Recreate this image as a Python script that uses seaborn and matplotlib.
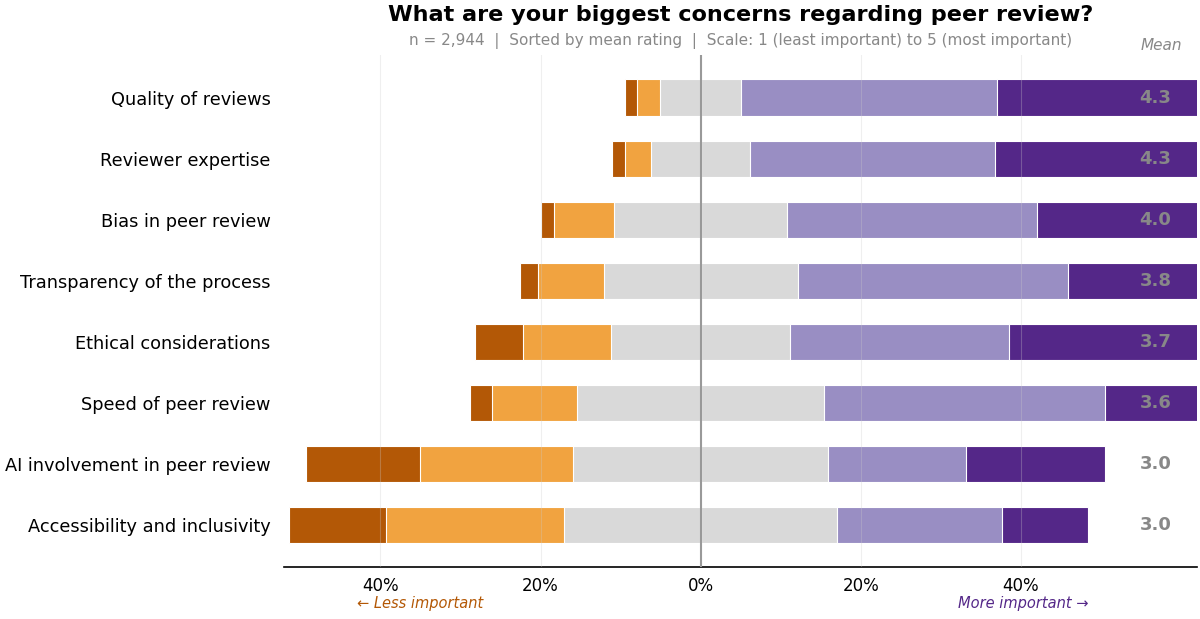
import numpy as np
import pandas as pd
import seaborn as sns
import matplotlib.pyplot as plt

# Data: share of responses (%) per rating 1..5, sorted by mean rating
topics = [
    "Quality of reviews",
    "Reviewer expertise",
    "Bias in peer review",
    "Transparency of the process",
    "Ethical considerations",
    "Speed of peer review",
    "AI involvement in peer review",
    "Accessibility and inclusivity",
]
r1 = [1.5, 1.6, 1.7, 2.3, 5.9, 2.8, 14.3, 12.1]
r2 = [2.9, 3.3, 7.5, 8.2, 11.1, 10.6, 19.1, 22.3]
r3 = [10.1, 12.3, 21.6, 24.2, 22.3, 30.9, 31.9, 34.1]
r4 = [32.0, 30.6, 31.2, 33.8, 27.4, 35.1, 17.2, 20.6]
r5 = [53.5, 52.2, 38.0, 31.5, 33.3, 20.6, 17.3, 10.7]
means = [4.3, 4.3, 4.0, 3.8, 3.7, 3.6, 3.0, 3.0]

colors = ["#b35806", "#f1a340", "#d9d9d9", "#998ec3", "#542788"]

df = pd.DataFrame({"topic": topics, "r1": r1, "r2": r2, "r3": r3, "r4": r4, "r5": r5})
half = df["r3"] / 2
# cumulative ends, drawn from outside inwards so inner segments overlay
layers = [
    (half + df["r4"] + df["r5"], colors[4]),
    (half + df["r4"], colors[3]),
    (half, colors[2]),
    (-(half + df["r2"] + df["r1"]), colors[0]),
    (-(half + df["r2"]), colors[1]),
    (-half, colors[2]),
]

fig, ax = plt.subplots(figsize=(12, 6.19), dpi=100)
fig.subplots_adjust(left=0.237, right=0.9975, bottom=0.084, top=0.911)

for vals, c in layers:
    sns.barplot(x=vals, y=df["topic"], color=c, orient="h", width=0.6,
                saturation=1, edgecolor="white", linewidth=0.8, ax=ax)

ax.set_xlim(-52, 62)
ax.set_ylim(7.69, -0.7)
ax.axvline(0, color="#999999", lw=1.5, zorder=5)

ticks = [-40, -20, 0, 20, 40]
ax.set_xticks(ticks)
ax.set_xticklabels([f"{abs(t)}%" for t in ticks], fontsize=12)
ax.tick_params(axis="x", length=0, pad=7)
ax.tick_params(axis="y", length=0, labelsize=12.8, pad=10)
ax.set_xlabel("")
ax.set_ylabel("")
ax.grid(axis="x", color="#cccccc", alpha=0.3, lw=0.8)
ax.set_axisbelow(False)
for s in ["top", "right", "left"]:
    ax.spines[s].set_visible(False)
ax.spines["bottom"].set_linewidth(1.2)

for i, m in enumerate(means):
    ax.text(56.8, i, f"{m:.1f}", ha="center", va="center", fontsize=13,
            fontweight="bold", color="#888888", zorder=6)
ax.text(57.5, -0.85, "Mean", ha="center", va="center", fontsize=11,
        style="italic", color="#888888", clip_on=False)

ax.text(-35.1, -0.072, "← Less important", transform=ax.get_xaxis_transform(),
        ha="center", va="center", fontsize=10.5, style="italic", color="#b35806")
ax.text(40.3, -0.072, "More important →", transform=ax.get_xaxis_transform(),
        ha="center", va="center", fontsize=10.5, style="italic", color="#542788")

fig.text(0.617, 0.976, "What are your biggest concerns regarding peer review?",
         ha="center", va="center", fontsize=16.1, fontweight="bold")
fig.text(0.617, 0.934,
         "n = 2,944  |  Sorted by mean rating  |  Scale: 1 (least important) to 5 (most important)",
         ha="center", va="center", fontsize=11, color="#888888")

plt.savefig("out.png", dpi=100)
